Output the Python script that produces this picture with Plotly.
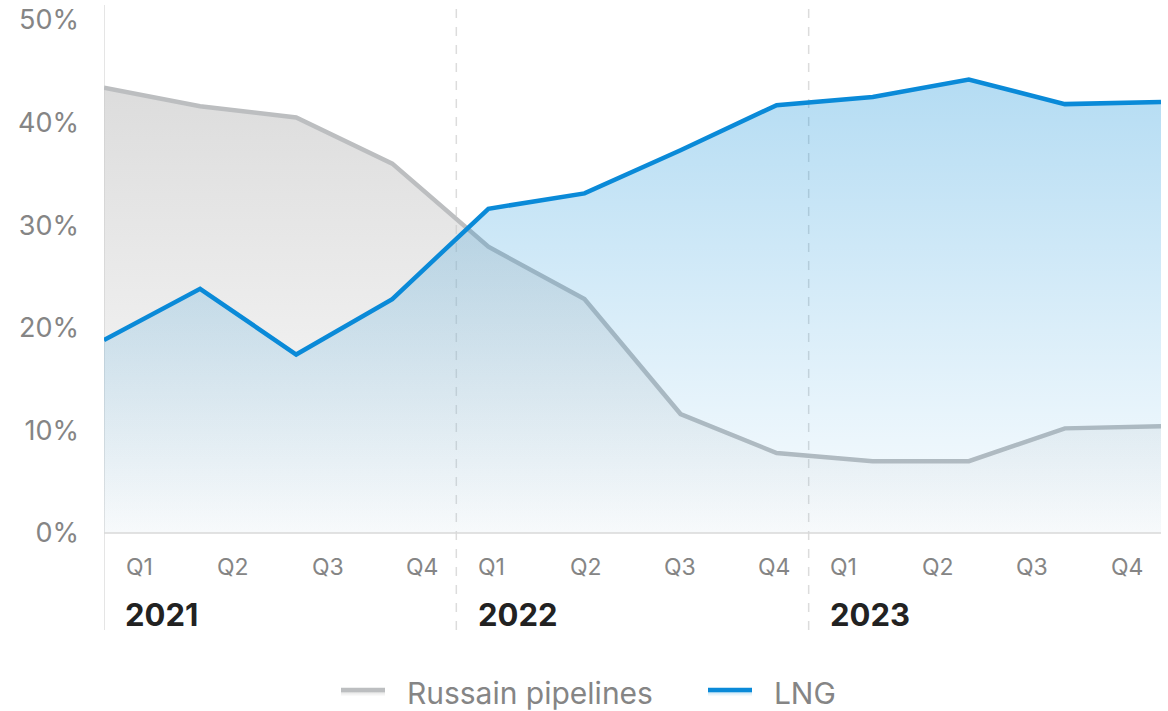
import plotly.graph_objects as go

years = ["2021", "2022", "2023"]
quarters = ["Q1", "Q2", "Q3", "Q4"]
pipelines = [43.4, 41.6, 40.5, 36.0, 27.9, 22.8, 11.6, 7.8, 7.0, 7.0, 10.2, 10.4]
lng = [18.8, 23.8, 17.4, 22.8, 31.6, 33.1, 37.3, 41.7, 42.5, 44.2, 41.8, 42.0]
series_names = ["Russain pipelines", "LNG"]

n = len(pipelines)
span = 4 * len(years)
xs = [i * span / (n - 1) for i in range(n)]

FONT = "Inter, Roboto, sans-serif"
GRAY_TXT = "#858585"
PAD = "\u00a0\u00a0"

fig = go.Figure()
fig.add_trace(go.Scatter(
    x=xs, y=pipelines, name=PAD + series_names[0], mode="lines",
    line=dict(color="#bcbec0", width=4.5),
    fill="tozeroy",
    fillgradient=dict(type="vertical", start=0, stop=50,
                      colorscale=[[0, "rgba(200,200,200,0.05)"], [1, "rgba(200,200,200,0.72)"]]),
))
fig.add_trace(go.Scatter(
    x=xs, y=lng, name=PAD + series_names[1], mode="lines",
    line=dict(color="#0a8ad8", width=4.5),
    fill="tozeroy",
    fillgradient=dict(type="vertical", start=0, stop=50,
                      colorscale=[[0, "rgba(0,136,214,0.02)"], [1, "rgba(0,136,214,0.33)"]]),
))

ymin, ymax = -9.45, 51.46
shapes = []
for k in range(len(years)):
    shapes.append(dict(type="line", xref="x", yref="y", x0=4 * k, x1=4 * k, y0=ymin, y1=ymax,
                       line=dict(color="#dcdcdc", width=1.5, dash="solid" if k == 0 else "dash"),
                       layer="below"))
shapes.append(dict(type="line", xref="x", yref="y", x0=0, x1=span, y0=0, y1=0,
                   line=dict(color="#d8d8d8", width=1.5), layer="above"))

annotations = []
for k, yr in enumerate(years):
    for q, ql in enumerate(quarters):
        annotations.append(dict(x=4 * k + 0.4 + 1.07 * q, y=-3.3, xref="x", yref="y",
                                text=ql, showarrow=False, xanchor="center", yanchor="middle",
                                font=dict(family=FONT, size=23, color=GRAY_TXT)))
    annotations.append(dict(x=4 * k + 0.22, y=-7.9, xref="x", yref="y",
                            text="<b>%s</b>" % yr, showarrow=False, xanchor="left", yanchor="middle",
                            font=dict(family=FONT, size=31, color="#222222")))

fig.update_layout(
    width=1168, height=711,
    margin=dict(l=104, r=7, t=5, b=81, autoexpand=False),
    paper_bgcolor="white", plot_bgcolor="white",
    font=dict(family=FONT),
    xaxis=dict(range=[0, span], showgrid=False, zeroline=False, showticklabels=False,
               showline=False, fixedrange=True),
    yaxis=dict(range=[ymin, ymax], tickvals=[0, 10, 20, 30, 40, 50],
               ticktext=["0%", "10%", "20%", "30%", "40%", "50%"],
               showgrid=False, zeroline=False, showline=False,
               tickfont=dict(family=FONT, size=27, color=GRAY_TXT),
               ticklabelstandoff=24),
    showlegend=True,
    legend=dict(orientation="h", xref="container", yref="container", x=336 / 1168, y=1 - 692 / 711,
                xanchor="left", yanchor="middle",
                font=dict(family=FONT, size=30, color=GRAY_TXT), itemwidth=44,
                entrywidth=308, tracegroupgap=0),
    shapes=shapes,
    annotations=annotations,
)

fig.write_html("out.html", config={"displayModeBar": False},
               post_script="document.body.style.margin='0';document.body.style.overflow='hidden';")
